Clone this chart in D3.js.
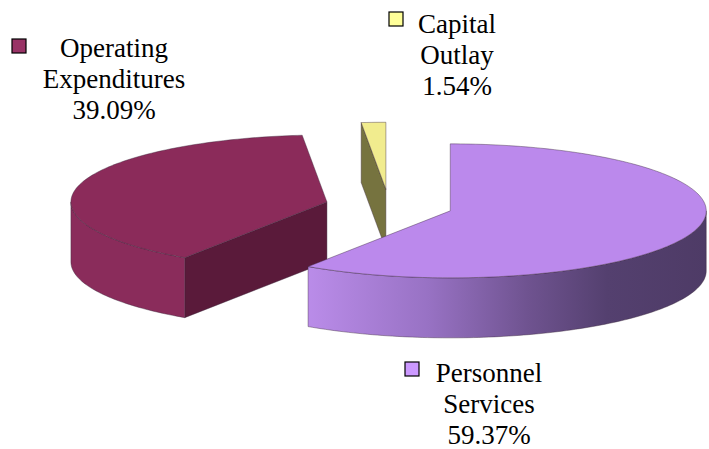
<!DOCTYPE html>
<html>
<head>
<meta charset="utf-8">
<script src="https://cdn.jsdelivr.net/npm/d3@7"></script>
<style>
  body { margin: 0; background: #fff; }
  text { font-family: "Liberation Serif", "Times New Roman", serif; font-size: 27px; fill: #000; }
</style>
</head>
<body>
<svg id="chart" width="709" height="449"></svg>
<script>
// slice order is clockwise from 12 o'clock
const categories = ['Personnel Services', 'Operating Expenditures', 'Capital Outlay'];
const labelLines = [['Personnel', 'Services'], ['Operating', 'Expenditures'], ['Capital', 'Outlay']];
const values = [59.37, 39.09, 1.54];

const legendColors = ['#cc99ff', '#993366', '#ffff99'];
const topColors = ['#bb89ec', '#8b2b5a', '#f1ec8e'];
const wallColors = ['url(#wallGrad)', '#8a2c5b', '#8a8648'];
const cutColors = ['#6b4f8c', '#5a1a3a', '#76733f'];

const width = 709, height = 449;
const cx = 389, cy = 206;   // pie centre (before explode)
const rx = 256, ry = 67;    // projected ellipse radii
const depth = 60;
const explode = 0.25;

const svg = d3.select('#chart');

const defs = svg.append('defs');
const grad = defs.append('linearGradient')
  .attr('id', 'wallGrad')
  .attr('gradientUnits', 'userSpaceOnUse')
  .attr('x1', 308).attr('x2', 707).attr('y1', 0).attr('y2', 0);
grad.selectAll('stop')
  .data([[0, '#ba8ce9'], [0.3, '#9872c4'], [0.55, '#6f5390'], [0.75, '#54406f'], [1, '#4e3b66']])
  .join('stop')
  .attr('offset', d => d[0])
  .attr('stop-color', d => d[1]);

const pie = d3.pie().sort(null).value(d => d)
  .startAngle(0).endAngle(2 * Math.PI);
const arcs = pie(values);

// projected point on ellipse, angle clockwise from 12 o'clock
function pt(ox, oy, a, r, z) {
  return [ox + rx * r * Math.sin(a), oy - ry * r * Math.cos(a) + z];
}

function arcPts(ox, oy, a0, a1, z) {
  const n = Math.max(2, Math.ceil(Math.abs(a1 - a0) / 0.02));
  return d3.range(n + 1).map(i => pt(ox, oy, a0 + (a1 - a0) * i / n, 1, z));
}

const line = d3.line();

const slices = arcs.map((d, i) => {
  const mid = (d.startAngle + d.endAngle) / 2;
  const ox = cx + explode * rx * Math.sin(mid);
  const oy = cy - explode * ry * Math.cos(mid);
  return { d, i, ox, oy };
});

const edgeStroke = '#3b2a3b';

const g = svg.append('g');

// back to front
slices.slice().sort((a, b) => a.oy - b.oy).forEach(s => {
  const { d, i, ox, oy } = s;
  const a0 = d.startAngle, a1 = d.endAngle;

  // cut faces
  [[a0, Math.sin(a0) < -1e-6], [a1, Math.sin(a1) > 1e-6]].forEach(([a, vis]) => {
    if (!vis) return;
    const p = pt(ox, oy, a, 1, 0);
    const poly = [[ox, oy], p, [p[0], p[1] + depth], [ox, oy + depth]];
    g.append('path')
      .attr('d', line(poly) + 'Z')
      .attr('fill', cutColors[i])
      .attr('stroke', edgeStroke).attr('stroke-width', 0.6).attr('stroke-opacity', 0.7);
  });

  // outer wall, front half only
  const w0 = Math.max(a0, Math.PI / 2), w1 = Math.min(a1, 3 * Math.PI / 2);
  if (w1 > w0) {
    const top = arcPts(ox, oy, w0, w1, 0);
    const bot = arcPts(ox, oy, w1, w0, depth);
    g.append('path')
      .attr('d', line(top.concat(bot)) + 'Z')
      .attr('fill', wallColors[i])
      .attr('stroke', edgeStroke).attr('stroke-width', 0.6).attr('stroke-opacity', 0.7);
  }

  // top face
  const topPts = [[ox, oy]].concat(arcPts(ox, oy, a0, a1, 0));
  g.append('path')
    .attr('d', line(topPts) + 'Z')
    .attr('fill', topColors[i])
    .attr('stroke', edgeStroke).attr('stroke-width', 0.6).attr('stroke-opacity', 0.7);
});

// labels with legend keys
const labelPos = [
  { x: 489, y: 382, kx: 405, ky: 362 },
  { x: 114, y: 57, kx: 12, ky: 39 },
  { x: 457, y: 33, kx: 389, ky: 12 }
];
const fmt = d3.format('.2f');

const labels = svg.append('g').selectAll('g')
  .data(categories)
  .join('g');

labels.append('rect')
  .attr('x', (d, i) => labelPos[i].kx)
  .attr('y', (d, i) => labelPos[i].ky)
  .attr('width', 14).attr('height', 14)
  .attr('fill', (d, i) => legendColors[i])
  .attr('stroke', '#000').attr('stroke-width', 1.2);

labels.append('text')
  .attr('text-anchor', 'middle')
  .attr('x', (d, i) => labelPos[i].x)
  .attr('y', (d, i) => labelPos[i].y)
  .selectAll('tspan')
  .data((d, i) => labelLines[i].concat([fmt(values[i]) + '%']).map(t => ({ t, i })))
  .join('tspan')
  .attr('x', d => labelPos[d.i].x)
  .attr('dy', (d, j) => j === 0 ? 0 : 31)
  .text(d => d.t);
</script>
</body>
</html>
